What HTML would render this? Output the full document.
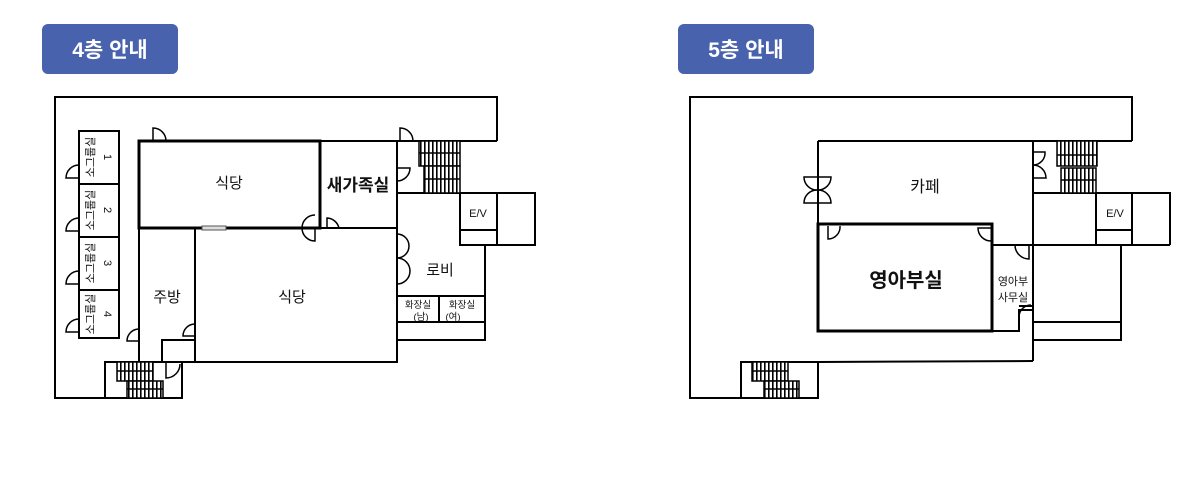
<!DOCTYPE html>
<html><head><meta charset="utf-8"><style>
body{margin:0;background:#fff;width:1197px;height:485px;overflow:hidden}
svg{display:block}
text{font-family:"Liberation Sans","Noto Sans CJK KR",sans-serif;fill:#111}
</style></head><body>
<svg width="1197" height="485" viewBox="0 0 1197 485" xmlns="http://www.w3.org/2000/svg">
<defs>
<pattern id="st" width="4" height="8" patternUnits="userSpaceOnUse">
<rect width="4" height="8" fill="#fff"/><line x1="0.8" y1="0" x2="0.8" y2="8" stroke="#000" stroke-width="1.6"/>
</pattern>
</defs>
<rect x="42" y="24" width="136" height="50" rx="6" fill="#4862ad"/>
<text x="110" y="57" text-anchor="middle" font-size="21" font-weight="bold" style="fill:#fff">4층 안내</text>
<rect x="678" y="24" width="136" height="50" rx="6" fill="#4862ad"/>
<text x="746" y="57" text-anchor="middle" font-size="21" font-weight="bold" style="fill:#fff">5층 안내</text>

<g fill="none" stroke="#000" stroke-width="2">
<polyline points="497,141 497,97 55,97 55,398 105,398"/>
<rect x="105" y="362" width="77" height="36"/>
<rect x="79" y="131" width="40" height="207"/>
<line x1="79" y1="184" x2="119" y2="184"/><line x1="79" y1="237" x2="119" y2="237"/><line x1="79" y1="290" x2="119" y2="290"/>
<line x1="320" y1="141" x2="497" y2="141"/>
<rect x="320" y="141" width="77" height="87"/>
<polyline points="397,193 535,193 535,245 497,245"/>
<rect x="460" y="193" width="37" height="52"/><line x1="460" y1="230" x2="497" y2="230"/>
<polyline points="485,245 485,340 397,340"/>
<line x1="397" y1="296" x2="485" y2="296"/><line x1="397" y1="322" x2="485" y2="322"/><line x1="439" y1="296" x2="439" y2="322"/>
<rect x="195" y="228" width="202" height="134"/>
<polyline points="139,228 139,362"/>
<polyline points="195,228 195,340 162,340 162,362 195,362"/>
<line x1="139" y1="362" x2="162" y2="362"/>
</g>
<rect x="139" y="141" width="181" height="87" fill="none" stroke="#000" stroke-width="3"/>
<rect x="202" y="226" width="24" height="4" fill="#ddd" stroke="#555" stroke-width="1"/>
<g stroke="#000" stroke-width="1.5">
<rect x="419" y="141" width="41" height="25" fill="url(#st)"/><rect x="424" y="166" width="36" height="27" fill="url(#st)"/>
<line x1="419" y1="153" x2="460" y2="153"/><line x1="424" y1="179" x2="460" y2="179"/>
<rect x="117" y="362" width="36" height="19" fill="url(#st)"/><rect x="127" y="381" width="36" height="17" fill="url(#st)"/>
<line x1="117" y1="371" x2="153" y2="371"/><line x1="127" y1="389" x2="163" y2="389"/>
</g>
<g fill="none" stroke="#000" stroke-width="1.5">
<path d="M153,141 V128 A13,13 0 0 1 166,141"/>
<path d="M400,141 V128 A13,13 0 0 1 413,141"/>
<path d="M397,168 H410 A13,13 0 0 1 397,181"/>
<path d="M79,178 H66 A13,13 0 0 1 79,165"/>
<path d="M79,231 H66 A13,13 0 0 1 79,218"/>
<path d="M79,284 H66 A13,13 0 0 1 79,271"/>
<path d="M79,332 H66 A13,13 0 0 1 79,319"/>
<path d="M315,228 V241 A13,13 0 0 1 302,228 A13,13 0 0 1 315,215"/>
<path d="M327,228 V218 A13,13 0 0 1 339,228"/>
<path d="M397,234 A12,12 0 0 1 397,258 A12,12 0 0 1 397,284"/>
<path d="M139,341 H127 A12,12 0 0 1 139,329"/>
<path d="M195,336 H183 A12,12 0 0 1 195,324"/>
<path d="M166,363 V378 A14,14 0 0 0 180,364"/>
</g>
<g font-size="15" text-anchor="middle">
<text x="229" y="188">식당</text>
<text x="292" y="302">식당</text>
<text x="167" y="302">주방</text>
<text x="358" y="191" font-size="17" font-weight="bold">새가족실</text>
<text x="440" y="275">로비</text>
<text x="478" y="217" font-size="11">E/V</text>
<text x="418" y="308" font-size="9.5">화장실</text><text x="421" y="320" font-size="9.5">(남)</text>
<text x="462" y="308" font-size="9.5">화장실</text><text x="453" y="320" font-size="9.5">(여)</text>
</g>
<g font-size="11">
<text transform="translate(94,157) rotate(-90)" text-anchor="middle">소그룹실</text><text transform="translate(104,157) rotate(90)" text-anchor="middle">1</text>
<text transform="translate(94,210) rotate(-90)" text-anchor="middle">소그룹실</text><text transform="translate(104,210) rotate(90)" text-anchor="middle">2</text>
<text transform="translate(94,263) rotate(-90)" text-anchor="middle">소그룹실</text><text transform="translate(104,263) rotate(90)" text-anchor="middle">3</text>
<text transform="translate(94,314) rotate(-90)" text-anchor="middle">소그룹실</text><text transform="translate(104,314) rotate(90)" text-anchor="middle">4</text>
</g>

<g fill="none" stroke="#000" stroke-width="2">
<polyline points="1132,141 1132,97 690,97 690,398 741,398"/>
<rect x="741" y="362" width="77" height="36"/>
<line x1="818" y1="362" x2="1033" y2="361"/>
<line x1="818" y1="141" x2="1132" y2="141"/>
<line x1="818" y1="141" x2="818" y2="224"/>
<line x1="1033" y1="141" x2="1033" y2="361"/>
<line x1="992" y1="245" x2="1170" y2="245"/>
<polyline points="1033,193 1170,193 1170,245"/>
<rect x="1096" y="193" width="36" height="52"/><line x1="1096" y1="230" x2="1132" y2="230"/>
<polyline points="1121,245 1121,340 1033,340"/><line x1="1033" y1="322" x2="1121" y2="322"/>
<polyline points="992,331 1019,331 1019,310 1033,310"/>
<line x1="1019" y1="306" x2="1033" y2="306"/>
</g>
<rect x="818" y="224" width="174" height="107" fill="none" stroke="#000" stroke-width="3"/>
<g stroke="#000" stroke-width="1.5">
<rect x="1057" y="141" width="40" height="25" fill="url(#st)"/><rect x="1061" y="168" width="35" height="25" fill="url(#st)"/>
<line x1="1057" y1="155" x2="1097" y2="155"/><line x1="1061" y1="180" x2="1096" y2="180"/>
<rect x="752" y="362" width="36" height="19" fill="url(#st)"/><rect x="764" y="381" width="35" height="17" fill="url(#st)"/>
<line x1="752" y1="371" x2="788" y2="371"/><line x1="764" y1="389" x2="799" y2="389"/>
</g>
<g fill="none" stroke="#000" stroke-width="1.5">
<path d="M804,177 H831 A13,13 0 0 1 818,190 A13,13 0 0 1 804,177 Z"/>
<path d="M804,203 H831 A13,13 0 0 0 818,190 A13,13 0 0 0 804,203 Z"/>
<path d="M1033,152 H1045 A12,12 0 0 1 1033,165 A13,13 0 0 1 1046,178 H1033"/>
<path d="M828,226 V239 A12,12 0 0 0 840,226"/>
<path d="M991,228 H978 A13,13 0 0 0 991,241"/>
<path d="M1029,245 V259 A14,14 0 0 1 1015,245"/>
<path d="M1019,330 V317 A12,12 0 0 1 1031,305"/>
</g>
<g text-anchor="middle">
<text x="925" y="192" font-size="16">카페</text>
<text x="906" y="287" font-size="20" font-weight="bold">영아부실</text>
<text x="1013" y="285" font-size="11">영아부</text>
<text x="1013" y="301" font-size="11">사무실</text>
<text x="1115" y="217" font-size="11">E/V</text>
</g>
</svg>
</body></html>
